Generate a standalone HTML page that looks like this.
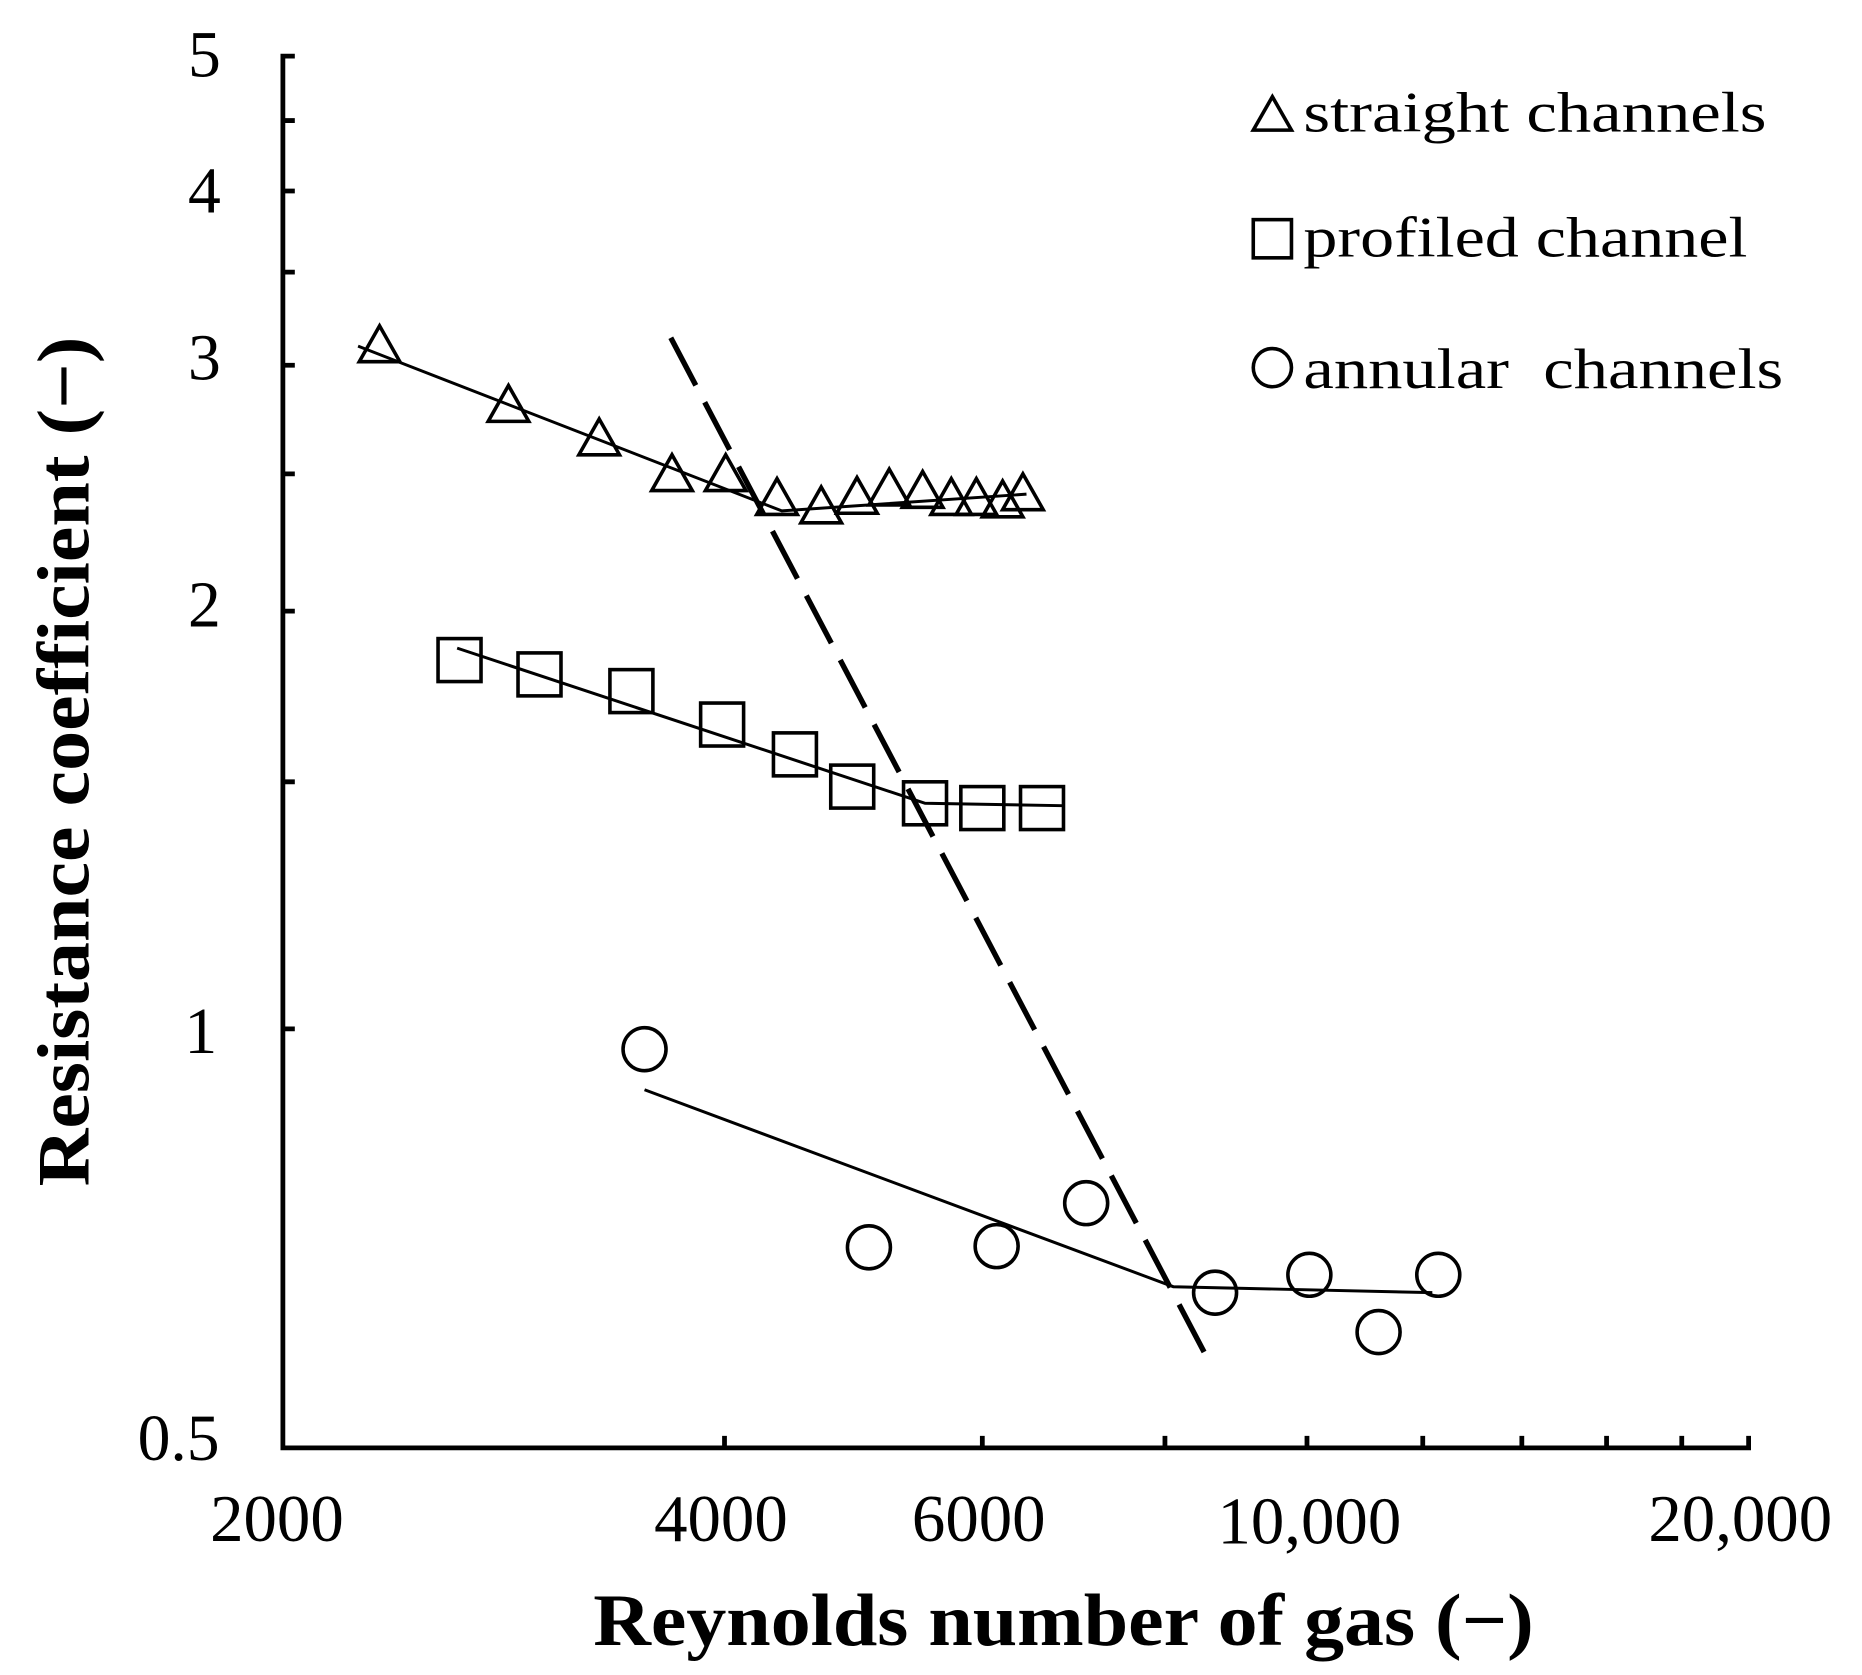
<!DOCTYPE html>
<html><head><meta charset="utf-8"><style>html,body{margin:0;padding:0;background:#fff}svg{display:block}</style></head>
<body>
<svg width="1862" height="1675" viewBox="0 0 1560 1403.3" xmlns="http://www.w3.org/2000/svg" font-family="Liberation Serif, serif">
<rect width="1560" height="1403.3" fill="#fff"/>
<g stroke="#000" stroke-width="4" fill="none">
<polyline points="247,47 237,47 237,1213 1465,1213 1465,1203"/>
<path d="M237,101h10M237,160h10M237,228h10M237,306h10M237,397h10M237,512h10M237,655h10M237,862h10"/>
<path d="M607,1213v-10M823,1213v-10M976,1213v-10M1095,1213v-10M1192,1213v-10M1275,1213v-10M1346,1213v-10M1409,1213v-10"/>
</g>
<g font-size="55" text-anchor="end" fill="#000">
<text x="185" y="64">5</text><text x="185" y="178">4</text><text x="185" y="318">3</text><text x="185" y="525">2</text><text x="182" y="882">1</text><text x="184" y="1223">0.5</text>
</g>
<g font-size="56" text-anchor="middle" fill="#000">
<text x="232" y="1291">2000</text>
<text x="604" y="1291">4000</text>
<text x="820" y="1291">6000</text>
<text x="1097" y="1293">10,000</text>
<text x="1458" y="1291">20,000</text>
</g>
<text x="891" y="1378" font-size="62" font-weight="bold" text-anchor="middle" textLength="788" lengthAdjust="spacingAndGlyphs">Reynolds number of gas (−)</text>
<text transform="translate(74,638) rotate(-90)" font-size="62" font-weight="bold" text-anchor="middle" textLength="712" lengthAdjust="spacingAndGlyphs">Resistance coefficient (−)</text>
<g stroke="#000" stroke-width="2.5" fill="none">
<polyline points="300,290 655,428 860,414"/>
<polyline points="383,543 775,673 890,675"/>
<polyline points="540,913 983,1078 1200,1083"/>
</g>
<line x1="562" y1="283" x2="1010" y2="1135" stroke="#000" stroke-width="4.5" stroke-dasharray="45,16"/>
<g stroke="#000" stroke-width="3" fill="none">
<path d="M0,-17L17,13H-17Z" transform="translate(318,290)"/>
<path d="M0,-17L17,13H-17Z" transform="translate(426,340)"/>
<path d="M0,-17L17,13H-17Z" transform="translate(502,368)"/>
<path d="M0,-17L17,13H-17Z" transform="translate(563,398)"/>
<path d="M0,-17L17,13H-17Z" transform="translate(608,398)"/>
<path d="M0,-17L17,13H-17Z" transform="translate(651,418)"/>
<path d="M0,-17L17,13H-17Z" transform="translate(688,425)"/>
<path d="M0,-17L17,13H-17Z" transform="translate(718,417)"/>
<path d="M0,-17L17,13H-17Z" transform="translate(745,410)"/>
<path d="M0,-17L17,13H-17Z" transform="translate(773,412)"/>
<path d="M0,-17L17,13H-17Z" transform="translate(797,418)"/>
<path d="M0,-17L17,13H-17Z" transform="translate(818,418)"/>
<path d="M0,-17L17,13H-17Z" transform="translate(840,420)"/>
<path d="M0,-17L17,13H-17Z" transform="translate(857,414)"/>
<rect x="367" y="535" width="36" height="36"/>
<rect x="434" y="547" width="36" height="36"/>
<rect x="511" y="561" width="36" height="36"/>
<rect x="587" y="589" width="36" height="36"/>
<rect x="648" y="614" width="36" height="36"/>
<rect x="696" y="641" width="36" height="36"/>
<rect x="757" y="655" width="36" height="36"/>
<rect x="805" y="659" width="36" height="36"/>
<rect x="855" y="659" width="36" height="36"/>
<circle cx="540" cy="879" r="18"/>
<circle cx="728" cy="1045" r="18"/>
<circle cx="835" cy="1044" r="18"/>
<circle cx="910" cy="1008" r="18"/>
<circle cx="1018" cy="1083" r="18"/>
<circle cx="1097" cy="1068" r="18"/>
<circle cx="1155" cy="1116" r="18"/>
<circle cx="1205" cy="1068" r="18"/>
<path d="M1066,81L1082,109H1050Z"/>
<rect x="1050" y="184" width="32" height="32"/>
<circle cx="1066" cy="308" r="16"/>
</g>
<g font-size="48" fill="#000">
<text x="1092" y="110" textLength="388" lengthAdjust="spacingAndGlyphs">straight channels</text>
<text x="1092" y="215" textLength="372" lengthAdjust="spacingAndGlyphs">profiled channel</text>
<text x="1092" y="325" textLength="402" lengthAdjust="spacingAndGlyphs" xml:space="preserve">annular  channels</text>
</g>
</svg>
</body></html>
